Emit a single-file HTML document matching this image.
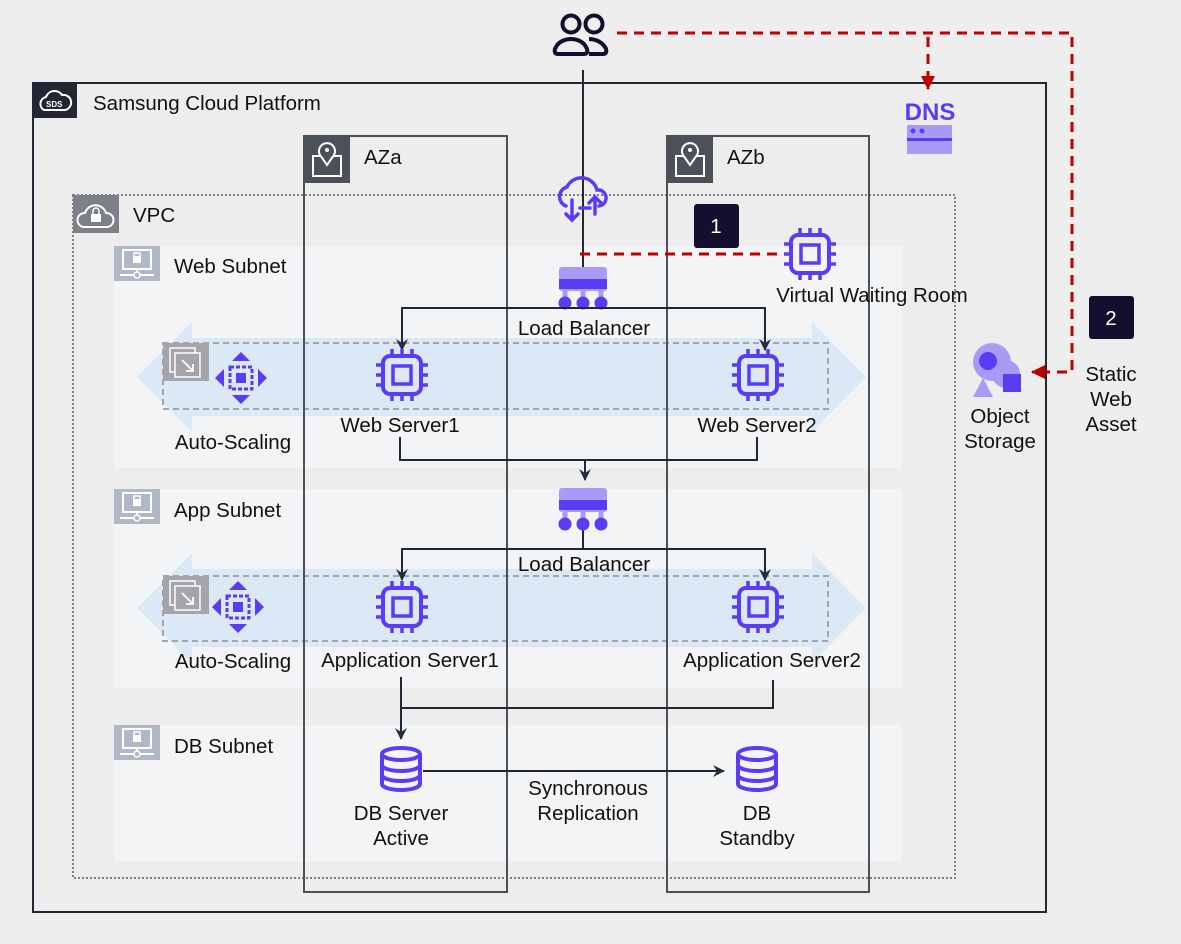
<!DOCTYPE html>
<html><head><meta charset="utf-8"><style>
html,body{margin:0;padding:0;background:#eeeeee;}
svg{display:block;font-family:"Liberation Sans",Arial,sans-serif;}
text{fill:#111;font-size:20.5px;}
</style></head><body>
<svg width="1181" height="944" viewBox="0 0 1181 944" xmlns="http://www.w3.org/2000/svg">
<defs>
<g id="chip" fill="none" stroke="#5b3cf5" stroke-width="4">
  <rect x="-19" y="-19" width="38" height="38" rx="7"/>
  <rect x="-9" y="-9" width="18" height="18" stroke-width="3.5"/>
  <path d="M-10,-19v-7M0,-19v-7M10,-19v-7M-10,19v7M0,19v7M10,19v7M-19,-10h-7M-19,0h-7M-19,10h-7M19,-10h7M19,0h7M19,10h7" stroke-width="3.5"/>
</g>
<g id="lb">
  <rect x="-24" y="-20" width="48" height="24" rx="3" fill="#a89af7"/>
  <rect x="-24" y="-8" width="48" height="10" fill="#5b3cf5"/>
  <path d="M-18,2v14M0,2v14M18,2v14" stroke="#a89af7" stroke-width="5"/>
  <circle cx="-18" cy="16" r="6.5" fill="#5b3cf5"/><circle cx="0" cy="16" r="6.5" fill="#5b3cf5"/><circle cx="18" cy="16" r="6.5" fill="#5b3cf5"/>
</g>
<g id="db" fill="none" stroke="#5b3cf5" stroke-width="4">
  <ellipse cx="0" cy="-14" rx="19" ry="6"/>
  <path d="M-19,-14v30a19,6 0 0 0 38,0v-30M-19,-3a19,6 0 0 0 38,0M-19,7a19,6 0 0 0 38,0"/>
</g>
<g id="as" fill="#5b3cf5">
  <path d="M0,-26l-9,9h18zM0,26l-9,-9h18zM-26,0l9,-9v18zM26,0l-9,-9v18z"/>
  <rect x="-11" y="-11" width="22" height="22" fill="none" stroke="#5b3cf5" stroke-width="3" stroke-dasharray="4 2"/>
  <rect x="-5" y="-5" width="10" height="10"/>
</g>
<g id="subicon">
  <rect x="0" y="0" width="46" height="35" fill="#b0b7c6"/>
  <rect x="9" y="4" width="28" height="19" fill="none" stroke="#fff" stroke-width="2"/>
  <rect x="19" y="10" width="8" height="7" fill="#fff"/><path d="M20,10v-3h6v3" stroke="#fff" fill="none" stroke-width="1.5"/>
  <path d="M23,23v5M6,29h34" stroke="#fff" stroke-width="2"/><circle cx="23" cy="29" r="3" fill="#b0b7c6" stroke="#fff" stroke-width="1.5"/>
</g>
<g id="azicon">
  <rect x="0" y="0" width="46" height="47" fill="#4b5059"/>
  <rect x="9" y="20" width="28" height="20" fill="none" stroke="#fff" stroke-width="2"/>
  <path d="M23,29l-7,-10a8,8 0 1 1 14,0z" fill="#4b5059" stroke="#fff" stroke-width="2"/>
  <circle cx="23" cy="14" r="2" fill="#fff"/>
</g>
<g id="asbox">
  <rect x="0" y="0" width="46" height="38" fill="#a4a5a8"/>
  <rect x="7" y="5" width="25" height="24" fill="none" stroke="#fff" stroke-width="1.5"/>
  <rect x="12" y="10" width="25" height="24" fill="#a4a5a8" stroke="#fff" stroke-width="1.5"/>
  <path d="M19,17l11,11M30,21v7h-7" stroke="#fff" stroke-width="1.8" fill="none"/>
</g>
<marker id="ah" markerWidth="12" markerHeight="12" refX="11" refY="6" orient="auto" markerUnits="userSpaceOnUse"><path d="M0,0L12,6L0,12L4,6z" fill="#232f3e"/></marker>
<marker id="rh" markerWidth="14" markerHeight="14" refX="13" refY="7" orient="auto" markerUnits="userSpaceOnUse"><path d="M0,0L14,7L0,14z" fill="#c00000"/></marker>
</defs>

<rect width="1181" height="944" fill="#eeeeee"/>
<rect x="33" y="83" width="1013" height="829" fill="#ededed" stroke="#232635" stroke-width="2"/>
<rect x="33" y="83" width="44" height="35" fill="#232635"/>
<path d="M44,110a7,7 0 0 1 2,-13a9,9 0 0 1 16,-2a7,7 0 0 1 3,15z" fill="none" stroke="#fff" stroke-width="2"/>
<text x="46" y="107" style="font-size:8px;fill:#fff;font-weight:bold">SDS</text>
<text x="93" y="110">Samsung Cloud Platform</text>

<rect x="114" y="246" width="788" height="222" fill="#f3f4f6"/>
<rect x="114" y="489" width="788" height="199" fill="#f3f4f6"/>
<rect x="114" y="725" width="788" height="136" fill="#f3f4f6"/>
<use href="#subicon" x="114" y="246"/><text x="174" y="273">Web Subnet</text>
<use href="#subicon" x="114" y="489"/><text x="174" y="517">App Subnet</text>
<use href="#subicon" x="114" y="725"/><text x="174" y="753">DB Subnet</text>

<path d="M137,377L192,322V338H812V322L866,377L812,432V416H192V432Z" fill="#dbe8f5"/>
<path d="M137,608L192,553V569H812V553L866,608L812,663V647H192V663Z" fill="#dbe8f5"/>
<rect x="163" y="343" width="665" height="66" fill="none" stroke="#a4a5a8" stroke-width="2" stroke-dasharray="6 4"/>
<rect x="163" y="576" width="665" height="65" fill="none" stroke="#a4a5a8" stroke-width="2" stroke-dasharray="6 4"/>
<use href="#asbox" x="163" y="343"/><use href="#asbox" x="163" y="576"/>
<use href="#as" x="241" y="378"/><use href="#as" x="238" y="607"/>
<text x="233" y="449" text-anchor="middle">Auto-Scaling</text>
<text x="233" y="668" text-anchor="middle">Auto-Scaling</text>

<rect x="73" y="195" width="882" height="683" fill="none" stroke="#7d8086" stroke-width="2" stroke-dasharray="2 2"/>
<rect x="73" y="195" width="46" height="38" fill="#7d8086"/>
<path d="M84,227a7,7 0 0 1 1,-14a11,11 0 0 1 21,0a7,7 0 0 1 1,14z" fill="none" stroke="#fff" stroke-width="2"/>
<rect x="91" y="214" width="10" height="8" fill="#fff"/><path d="M93,214v-3a3,3 0 0 1 6,0v3" fill="none" stroke="#fff" stroke-width="1.5"/>
<text x="133" y="222">VPC</text>

<rect x="304" y="136" width="203" height="756" fill="none" stroke="#4b5059" stroke-width="2"/>
<use href="#azicon" x="304" y="136"/><text x="364" y="164">AZa</text>
<rect x="667" y="136" width="202" height="756" fill="none" stroke="#4b5059" stroke-width="2"/>
<use href="#azicon" x="667" y="136"/><text x="727" y="164">AZb</text>

<g fill="none" stroke="#12102e" stroke-width="4">
<circle cx="571" cy="24" r="8.5"/><circle cx="594" cy="24" r="8.5"/>
<path d="M558,54c-4,0-4,-4-2,-7c3,-6 10,-8 15,-8c5,0 12,2 15,8c2,3 2,7-2,7z"/>
<path d="M589,39c5,0 12,2 16,8c2,3 2,7-2,7h-14"/>
</g>
<line x1="583" y1="70" x2="583" y2="300" stroke="#232635" stroke-width="2"/>

<g fill="none" stroke="#5b3cf5" stroke-width="3.5" stroke-linecap="round">
<path d="M566,206a10,10 0 0 1 1,-19a16,16 0 0 1 30,3a8,8 0 0 1 2,16"/>
<path d="M572,200v20M566,214l6,6l6,-6M595,214v-17M589,203l6,-6l6,6M580,208h10"/>
</g>

<text x="930" y="120" text-anchor="middle" style="font-size:24px;font-weight:bold;fill:#5b3cf5">DNS</text>
<rect x="907" y="125" width="45" height="29" fill="#a89af7"/>
<rect x="907" y="138" width="45" height="3" fill="#5b3cf5"/>
<circle cx="913" cy="131" r="2.5" fill="#5b3cf5"/><circle cx="922" cy="131" r="2.5" fill="#5b3cf5"/>

<g fill="none" stroke="#c00000" stroke-width="3" stroke-dasharray="10 7">
<path d="M617,33H1072V372H1032" marker-end="url(#rh)"/>
<path d="M928,37V89" marker-end="url(#rh)"/>
<path d="M580,254H782"/>
</g>

<rect x="694" y="204" width="45" height="44" rx="3" fill="#12102e"/>
<text x="716" y="233" text-anchor="middle" style="fill:#fff">1</text>
<rect x="1089" y="296" width="45" height="43" rx="3" fill="#12102e"/>
<text x="1111" y="325" text-anchor="middle" style="fill:#fff">2</text>

<use href="#chip" x="810" y="254"/>
<text x="872" y="302" text-anchor="middle">Virtual Waiting Room</text>

<use href="#lb" x="583" y="287"/>
<g fill="none" stroke="#232635" stroke-width="2">
<path d="M583,308H402V350" marker-end="url(#ah)"/>
<path d="M583,308H765V350" marker-end="url(#ah)"/>
<path d="M400,437V460H757V437"/>
<path d="M585,460V480" marker-end="url(#ah)"/>
<path d="M583,520V549H402V580" marker-end="url(#ah)"/>
<path d="M583,549H765V580" marker-end="url(#ah)"/>
<path d="M401,677V739" marker-end="url(#ah)"/>
<path d="M773,680V708H401"/>
<path d="M423,771H724" marker-end="url(#ah)"/>
</g>
<rect x="516" y="316" width="138" height="22" fill="#f3f4f6"/>
<text x="584" y="335" text-anchor="middle">Load Balancer</text>
<use href="#chip" x="402" y="375"/><use href="#chip" x="758" y="375"/>
<text x="400" y="432" text-anchor="middle">Web Server1</text>
<text x="757" y="432" text-anchor="middle">Web Server2</text>

<use href="#lb" x="583" y="508"/>
<text x="584" y="571" text-anchor="middle">Load Balancer</text>
<use href="#chip" x="402" y="607"/><use href="#chip" x="758" y="607"/>
<text x="410" y="667" text-anchor="middle">Application Server1</text>
<text x="772" y="667" text-anchor="middle">Application Server2</text>

<use href="#db" x="401" y="768"/><use href="#db" x="757" y="768"/>
<text x="401" y="820" text-anchor="middle">DB Server</text>
<text x="401" y="845" text-anchor="middle">Active</text>
<text x="757" y="820" text-anchor="middle">DB</text>
<text x="757" y="845" text-anchor="middle">Standby</text>
<text x="588" y="795" text-anchor="middle">Synchronous</text>
<text x="588" y="820" text-anchor="middle">Replication</text>

<circle cx="992" cy="362" r="19" fill="#a89af7"/>
<circle cx="1006" cy="374" r="14" fill="#a89af7"/>
<circle cx="988" cy="361" r="9" fill="#5b3cf5"/>
<path d="M983,378L973,397H993Z" fill="#a89af7"/>
<rect x="1003" y="374" width="18" height="18" fill="#5b3cf5"/>
<text x="1000" y="423" text-anchor="middle">Object</text>
<text x="1000" y="448" text-anchor="middle">Storage</text>
<text x="1111" y="381" text-anchor="middle">Static</text>
<text x="1111" y="406" text-anchor="middle">Web</text>
<text x="1111" y="431" text-anchor="middle">Asset</text>
</svg>
</body></html>
